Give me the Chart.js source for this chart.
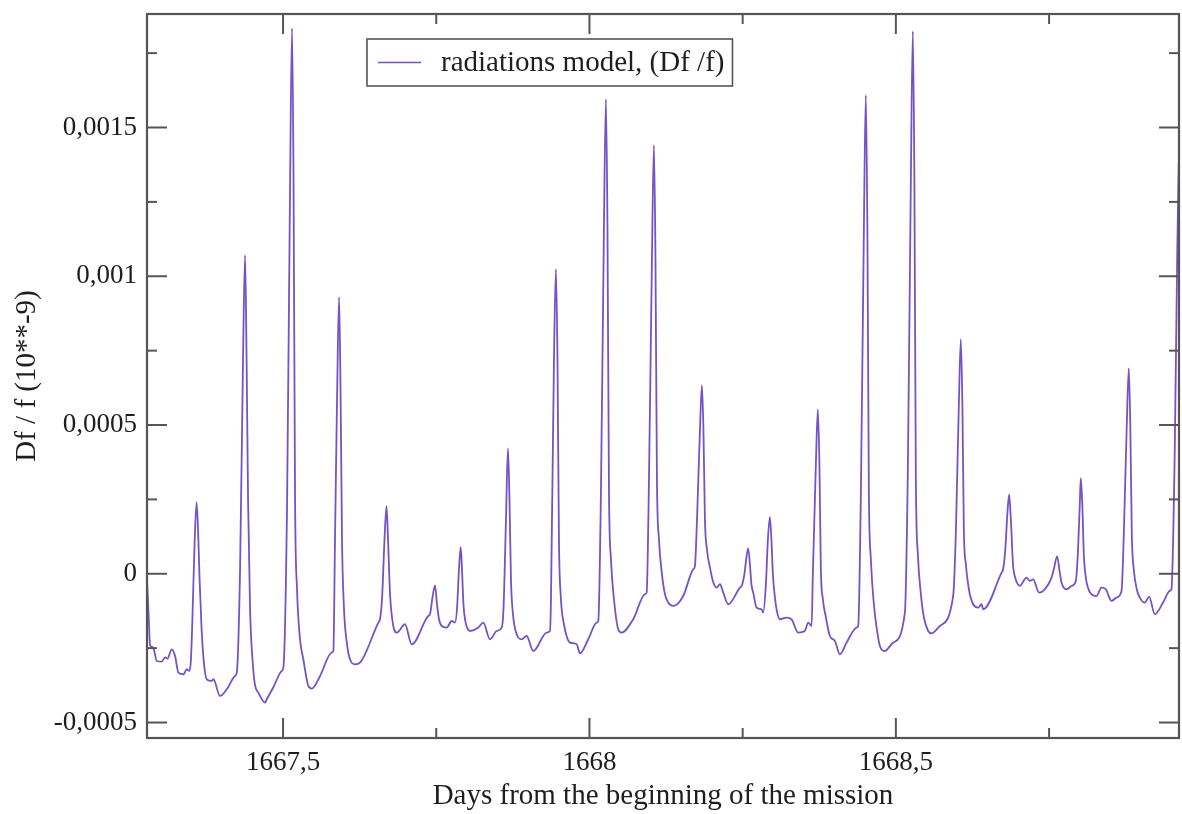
<!DOCTYPE html>
<html><head><meta charset="utf-8">
<script src="https://cdn.jsdelivr.net/npm/chart.js@4/dist/chart.umd.min.js"></script>
<style>html,body{margin:0;padding:0;background:#fff;}#wrap{width:1182px;height:814px;position:relative;}</style>
</head><body><div id="wrap"><canvas id="c" width="1182" height="814"></canvas></div>
<script>
// ---- data ----
const days = [
1667.2781,1667.2806,1667.2830,1667.2879,1667.2940,1667.3021,1667.3075,1667.3113,1667.3184,1667.3238,
1667.3292,1667.3374,1667.3429,1667.3471,1667.3494,1667.3516,1667.3556,1667.3589,1667.3613,1667.3638,
1667.3671,1667.3711,1667.3755,1667.3837,1667.3863,1667.3972,1667.4082,1667.4217,1667.4245,1667.4299,
1667.4347,1667.4380,1667.4405,1667.4429,1667.4462,1667.4511,1667.4543,1667.4597,1667.4706,1667.4734,
1667.4842,1667.4979,1667.5005,1667.5065,1667.5114,1667.5147,1667.5171,1667.5196,1667.5228,1667.5277,
1667.5331,1667.5413,1667.5468,1667.5604,1667.5794,1667.5821,1667.5848,1667.5881,1667.5914,1667.5938,
1667.5962,1667.5995,1667.6044,1667.6093,1667.6175,1667.6256,1667.6555,1667.6582,1667.6615,1667.6656,
1667.6688,1667.6713,1667.6746,1667.6799,1667.6855,1667.6990,1667.7099,1667.7370,1667.7398,1667.7439,
1667.7480,1667.7512,1667.7545,1667.7589,1667.7670,1667.7752,1667.7806,1667.7838,1667.7871,1667.7899,
1667.7920,1667.7944,1667.7969,1667.8051,1667.8186,1667.8267,1667.8377,1667.8486,1667.8568,1667.8597,
1667.8638,1667.8670,1667.8695,1667.8719,1667.8752,1667.8812,1667.8894,1667.8975,1667.9083,1667.9302,
1667.9356,1667.9372,1667.9421,1667.9453,1667.9478,1667.9502,1667.9535,1667.9584,1667.9633,1667.9682,
1667.9791,1667.9845,1667.9980,1668.0117,1668.0144,1668.0188,1668.0236,1668.0269,1668.0294,1668.0318,
1668.0351,1668.0400,1668.0470,1668.0525,1668.0714,1668.0905,1668.0933,1668.0971,1668.1020,1668.1052,
1668.1077,1668.1101,1668.1134,1668.1183,1668.1232,1668.1285,1668.1367,1668.1530,1668.1693,1668.1721,
1668.1754,1668.1803,1668.1835,1668.1860,1668.1884,1668.1917,1668.1966,1668.2015,1668.2075,1668.2129,
1668.2183,1668.2264,1668.2455,1668.2483,1668.2528,1668.2561,1668.2590,1668.2618,1668.2643,1668.2672,
1668.2727,1668.2809,1668.2835,1668.2879,1668.2912,1668.2944,1668.2969,1668.2993,1668.3026,1668.3059,
1668.3108,1668.3217,1668.3298,1668.3406,1668.3515,1668.3569,1668.3625,1668.3646,1668.3695,1668.3727,
1668.3752,1668.3776,1668.3809,1668.3858,1668.3923,1668.4005,1668.4086,1668.4196,1668.4359,1668.4385,
1668.4429,1668.4478,1668.4510,1668.4535,1668.4559,1668.4592,1668.4641,1668.4690,1668.4739,1668.4820,
1668.4956,1668.5147,1668.5196,1668.5245,1668.5277,1668.5302,1668.5326,1668.5359,1668.5408,1668.5457,
1668.5527,1668.5582,1668.5718,1668.5935,1668.5979,1668.6028,1668.6060,1668.6085,1668.6109,1668.6142,
1668.6191,1668.6261,1668.6342,1668.6398,1668.6424,1668.6724,1668.6750,1668.6786,1668.6819,1668.6848,
1668.6876,1668.6913,1668.6941,1668.7023,1668.7132,1668.7186,1668.7240,1668.7337,1668.7403,1668.7540,
1668.7577,1668.7631,1668.7667,1668.7703,1668.7784,1668.7866,1668.7936,1668.7969,1668.8001,1668.8018,
1668.8042,1668.8067,1668.8099,1668.8132,1668.8192,1668.8274,1668.8355,1668.8426,1668.8519,1668.8600,
1668.8682,1668.8719,1668.8768,1668.8801,1668.8825,1668.8850,1668.8882,1668.8931,1668.8980,1668.9062,
1668.9132,1668.9225,1668.9360,1668.9470,1668.9497,1668.9551,1668.9592,1668.9616
];
const values = [
-0.0000252,-0.0001361,-0.0002403,-0.0002471,-0.0002931,-0.0002951,-0.0002807,-0.0002850,-0.0002538,-0.0002763,
-0.0003321,-0.0003378,-0.0003210,-0.0003267,-0.0002975,-0.0001866,0.0000992,0.0002403,0.0001496,-0.0000185,
-0.0001866,-0.0003042,-0.0003546,-0.0003603,-0.0003546,-0.0004108,-0.0003882,-0.0003435,-0.0003323,0.0000185,
0.0007210,0.0010706,0.0007210,0.0002504,-0.0001193,-0.0003143,-0.0003748,-0.0003993,-0.0004329,-0.0004218,
-0.0003815,-0.0003266,-0.0003153,0.0002235,0.0012924,0.0018336,0.0013260,0.0002504,-0.0000521,-0.0002202,
-0.0002874,-0.0003771,-0.0003859,-0.0003435,-0.0002649,-0.0002595,0.0001160,0.0005865,0.0009294,0.0006202,
0.0001160,-0.0001193,-0.0002370,-0.0002874,-0.0003042,-0.0002985,-0.0001640,-0.0001529,-0.0000857,0.0001160,
0.0002269,0.0001160,-0.0000689,-0.0001755,-0.0001976,-0.0001697,-0.0002370,-0.0001418,-0.0001361,-0.0000790,
-0.0000387,-0.0001025,-0.0001529,-0.0001755,-0.0001808,-0.0001587,-0.0001640,-0.0001193,0.0000151,0.0000891,
0.0000151,-0.0001025,-0.0001529,-0.0001923,-0.0001808,-0.0001640,-0.0002202,-0.0001923,-0.0001808,-0.0001193,
0.0001832,0.0004218,0.0002504,-0.0000185,-0.0001361,-0.0002034,-0.0002202,-0.0002091,-0.0002595,-0.0001976,
-0.0001923,-0.0000857,0.0007210,0.0010235,0.0007210,0.0001160,-0.0000857,-0.0001697,-0.0002134,-0.0002313,
-0.0002370,-0.0002672,-0.0002202,-0.0001640,-0.0001587,0.0002840,0.0011580,0.0015949,0.0011580,0.0002840,
0.0000487,-0.0000857,-0.0001866,-0.0001976,-0.0001529,-0.0000689,-0.0000632,0.0003143,0.0010638,0.0014403,
0.0010638,0.0003176,0.0001160,-0.0000017,-0.0000689,-0.0000968,-0.0001082,-0.0000746,0.0000151,0.0000262,
0.0001765,0.0004824,0.0006336,0.0004824,0.0001832,0.0000824,0.0000218,-0.0000252,-0.0000464,-0.0000353,
-0.0000632,-0.0001025,-0.0000464,-0.0000410,-0.0000017,0.0000555,0.0000857,0.0000319,-0.0000353,-0.0000632,
-0.0001136,-0.0001193,-0.0001304,-0.0000353,0.0001160,0.0001899,0.0001160,-0.0000017,-0.0000790,-0.0001260,
-0.0001529,-0.0001472,-0.0001529,-0.0001976,-0.0001923,-0.0001640,-0.0001755,0.0000050,0.0003714,0.0005529,
0.0003714,0.0000151,-0.0000857,-0.0001462,-0.0002091,-0.0002259,-0.0002706,-0.0002313,-0.0001808,-0.0001755,
0.0002706,0.0011613,0.0016084,0.0011613,0.0002840,0.0000487,-0.0001025,-0.0001866,-0.0002427,-0.0002595,
-0.0002313,-0.0001304,0.0003580,0.0013361,0.0018235,0.0013260,0.0003176,0.0000655,-0.0000689,-0.0001462,
-0.0001923,-0.0002000,-0.0001755,-0.0000746,0.0001395,0.0005731,0.0007882,0.0005731,0.0001496,0.0000319,
-0.0000521,-0.0001025,-0.0001136,-0.0001025,-0.0001193,0.0000040,0.0000151,0.0000824,0.0002000,0.0002672,
0.0001832,0.0000262,-0.0000084,-0.0000403,-0.0000128,-0.0000242,-0.0000185,-0.0000632,-0.0000578,-0.0000128,
0.0000151,0.0000588,0.0000151,-0.0000296,-0.0000521,-0.0000410,-0.0000242,0.0000655,0.0002336,0.0003210,
0.0002336,0.0000655,-0.0000118,-0.0000454,-0.0000689,-0.0000746,-0.0000464,-0.0000521,-0.0000914,-0.0000800,
-0.0000578,0.0001294,0.0005025,0.0006907,0.0005025,0.0001328,0.0000151,-0.0000521,-0.0000800,-0.0000968,
-0.0000766,-0.0001361,-0.0000968,-0.0000578,-0.0000521,0.0004185,0.0010907,0.0013832
];
const seriesLabel = 'radiations model, (Df /f)';
const xTitle = 'Days from the beginning of the mission';
const yTitle = 'Df / f (10**-9)';
const xMajorTicks = [1667.5, 1668, 1668.5];
const xMajorLabels = ['1667,5', '1668', '1668,5'];
const xMinorTicks = [1667.75, 1668.25, 1668.75];
const yMajorTicks = [-0.0005, 0, 0.0005, 0.001, 0.0015];
const yMajorLabels = ['-0,0005', '0', '0,0005', '0,001', '0,0015'];
const yMinorTicks = [-0.00025, 0.00025, 0.00075, 0.00125, 0.00175];
const xRange = [1667.278, 1668.962];
const yRange = [-0.000552, 0.0018815];

// ---- styling ----
const FONT = '"Liberation Serif", "Times New Roman", serif';
const LINE_COLOR = '#7552c6';
const FRAME_COLOR = '#555555';
const TEXT_COLOR = '#1e1e1e';

const points = days.map((d, i) => ({x: d, y: values[i]}));

const framePlugin = {
  id: 'frameTicksLegend',
  afterDraw(chart) {
    const ctx = chart.ctx;
    const a = chart.chartArea;
    const xs = chart.scales.x, ys = chart.scales.y;
    ctx.save();
    ctx.strokeStyle = FRAME_COLOR;
    ctx.lineWidth = 2;
    const tick = (x1, y1, x2, y2) => { ctx.beginPath(); ctx.moveTo(x1, y1); ctx.lineTo(x2, y2); ctx.stroke(); };
    const MAJ = 20, MIN = 10;
    xMajorTicks.forEach(v => { const p = xs.getPixelForValue(v); tick(p, a.bottom, p, a.bottom - MAJ); tick(p, a.top, p, a.top + MAJ); });
    xMinorTicks.forEach(v => { const p = xs.getPixelForValue(v); tick(p, a.bottom, p, a.bottom - MIN); tick(p, a.top, p, a.top + MIN); });
    yMajorTicks.forEach(v => { const p = ys.getPixelForValue(v); tick(a.left, p, a.left + MAJ, p); tick(a.right, p, a.right - MAJ, p); });
    yMinorTicks.forEach(v => { const p = ys.getPixelForValue(v); tick(a.left, p, a.left + MIN, p); tick(a.right, p, a.right - MIN, p); });
    ctx.lineWidth = 2.2;
    ctx.strokeRect(a.left, a.top, a.right - a.left, a.bottom - a.top);

    // legend box
    const ds = chart.data.datasets[0];
    ctx.font = '29px ' + FONT;
    const tw = ctx.measureText(ds.label).width;
    const bx = a.left + 220, by = a.top + 25, bh = 47;
    const bw = 74 + tw + 8;
    ctx.fillStyle = '#ffffff';
    ctx.fillRect(bx, by, bw, bh);
    ctx.lineWidth = 1.6;
    ctx.strokeStyle = FRAME_COLOR;
    ctx.strokeRect(bx, by, bw, bh);
    ctx.strokeStyle = ds.borderColor;
    ctx.lineWidth = 1.5;
    tick(bx + 11, by + bh / 2, bx + 54, by + bh / 2);
    ctx.fillStyle = TEXT_COLOR;
    ctx.textBaseline = 'middle';
    ctx.textAlign = 'left';
    ctx.fillText(ds.label, bx + 74, by + bh / 2 + 1);
    ctx.restore();
  }
};

new Chart(document.getElementById('c'), {
  type: 'line',
  data: { datasets: [{
    label: seriesLabel,
    data: points,
    borderColor: LINE_COLOR,
    borderWidth: 1.8,
    pointRadius: 0,
    cubicInterpolationMode: 'monotone',
    fill: false
  }]},
  options: {
    responsive: false,
    devicePixelRatio: 1,
    animation: false,
    layout: { padding: { left: 0, right: 3, top: 14, bottom: 0 } },
    plugins: { legend: { display: false }, tooltip: { enabled: false } },
    scales: {
      x: {
        type: 'linear',
        min: xRange[0], max: xRange[1],
        afterBuildTicks: s => { s.ticks = xMajorTicks.map(v => ({value: v})); },
        afterFit: s => { s.height = 76; s.paddingLeft = 0; s.paddingRight = 0; },
        grid: { display: false, drawTicks: false },
        border: { display: false },
        ticks: {
          padding: 9, color: TEXT_COLOR, maxRotation: 0, autoSkip: false,
          font: { family: FONT, size: 27 },
          callback: v => xMajorLabels[xMajorTicks.indexOf(v)]
        },
        title: { display: true, text: xTitle, color: TEXT_COLOR, font: { family: FONT, size: 29 }, padding: { top: 0, bottom: 0 } }
      },
      y: {
        type: 'linear',
        min: yRange[0], max: yRange[1],
        afterBuildTicks: s => { s.ticks = yMajorTicks.map(v => ({value: v})); },
        afterFit: s => { s.width = 147; s.paddingTop = 0; s.paddingBottom = 0; },
        grid: { display: false, drawTicks: false },
        border: { display: false },
        ticks: {
          padding: 10, color: TEXT_COLOR, autoSkip: false,
          font: { family: FONT, size: 27 },
          callback: v => yMajorLabels[yMajorTicks.indexOf(v)]
        },
        title: { display: true, text: yTitle, color: TEXT_COLOR, font: { family: FONT, size: 29 }, padding: { top: 10, bottom: 0 } }
      }
    }
  },
  plugins: [framePlugin]
});
</script>
</body></html>
